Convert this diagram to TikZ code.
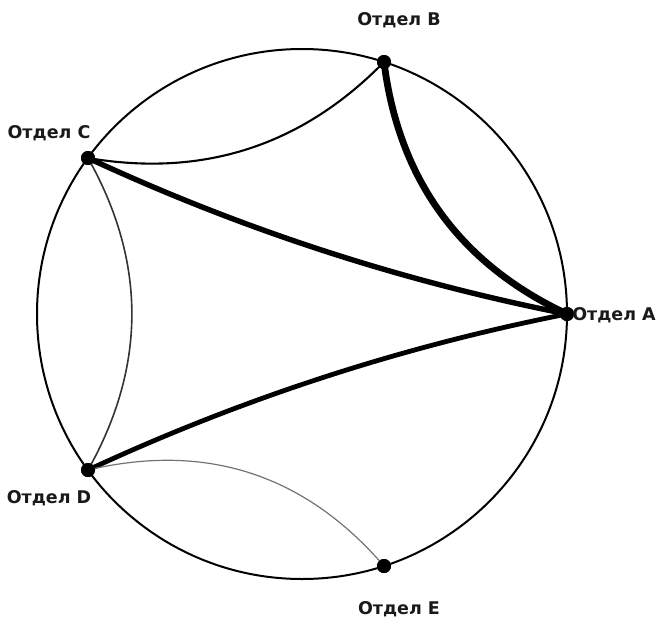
\documentclass[tikz,border=0pt]{standalone}
\usepackage{fontspec}
\setmainfont{DejaVu Sans}
\usetikzlibrary{calc}
\tikzset{
  vert/.style={circle,fill=black,inner sep=0pt,minimum size=14pt},
  lab/.style={anchor=base,inner sep=0pt,font=\bfseries\fontsize{17.5}{20}\selectfont,text=black!90},
}
\begin{document}
\begin{tikzpicture}[x=1pt,y=-1pt]
\useasboundingbox (0,0) rectangle (657,619);
\coordinate (O) at (302,314);
\draw[line width=2pt] (O) circle[radius=265pt];
\node[vert] (A) at (567,314) {};
\node[vert] (B) at (384,62) {};
\node[vert] (C) at (88,158) {};
\node[vert] (D) at (88,470) {};
\node[vert] (E) at (384,566) {};
% control points: chord midpoint moved toward the centre
\foreach \p/\q/\f in {A/B/0.40, A/C/0.37, A/D/0.37, B/C/0.38, C/D/0.41, D/E/0.44}{
  \coordinate (q\p\q) at ($($(\p)!0.5!(\q)$)!\f!(O)$);
}
\draw[line width=6.8pt] (A.center) .. controls ($(A)!2/3!(qAB)$) and ($(B)!2/3!(qAB)$) .. (B.center);
\draw[line width=5.4pt] (A.center) .. controls ($(A)!2/3!(qAC)$) and ($(C)!2/3!(qAC)$) .. (C.center);
\draw[line width=4.8pt] (A.center) .. controls ($(A)!2/3!(qAD)$) and ($(D)!2/3!(qAD)$) .. (D.center);
\draw[line width=2.1pt] (B.center) .. controls ($(B)!2/3!(qBC)$) and ($(C)!2/3!(qBC)$) .. (C.center);
\draw[line width=1.6pt,black!80] (C.center) .. controls ($(C)!2/3!(qCD)$) and ($(D)!2/3!(qCD)$) .. (D.center);
\draw[line width=1.2pt,black!55] (D.center) .. controls ($(D)!2/3!(qDE)$) and ($(E)!2/3!(qDE)$) .. (E.center);
\foreach \v in {A,B,C,D,E}{\node[vert] at (\v) {};}
\node[lab] (lA) at (614,320) {Отдел A};
\node[lab] (lB) at (399,25) {Отдел B};
\node[lab] (lC) at (49,138) {Отдел C};
\node[lab] (lD) at (49,503) {Отдел D};
\node[lab] (lE) at (399,614) {Отдел E};
\end{tikzpicture}
\end{document}
